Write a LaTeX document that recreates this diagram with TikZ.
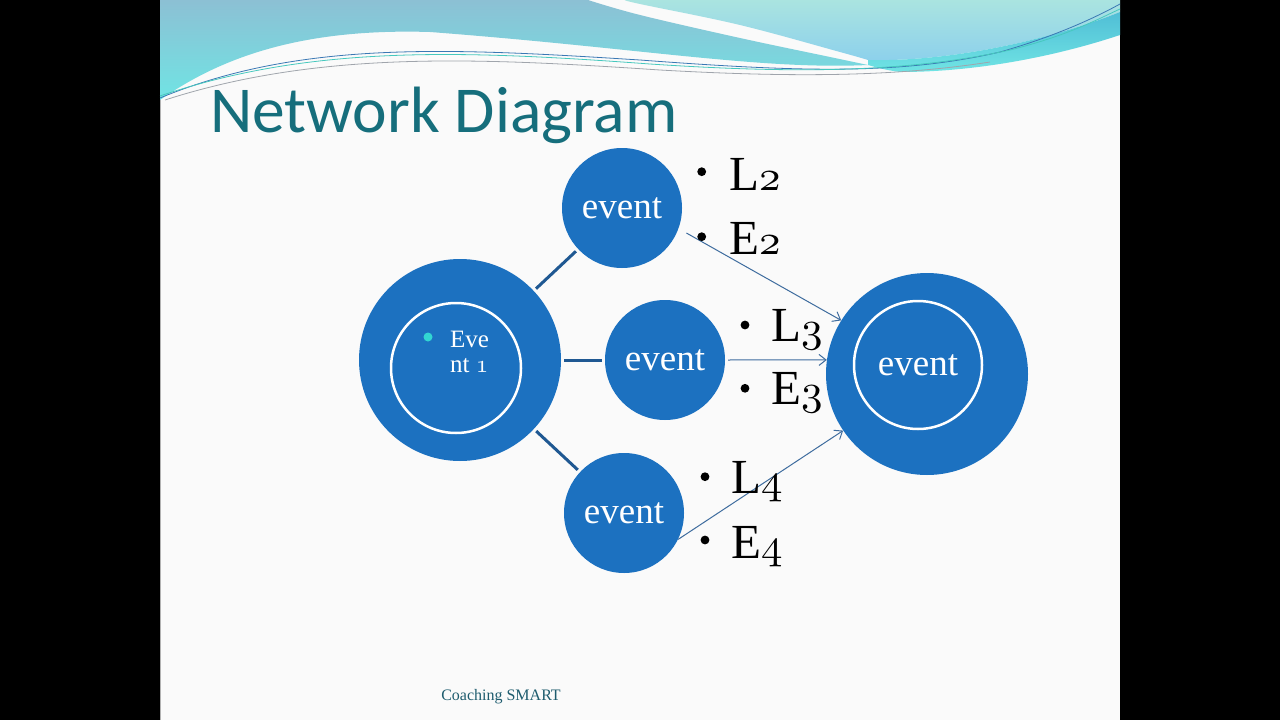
\documentclass[tikz,border=0pt]{standalone}
\usepackage{fontspec}
\setmainfont{Liberation Serif}
\newfontfamily\titlefont{Carlito}
\usetikzlibrary{arrows.meta}
\DeclareFontFamily{OML}{oscmm}{}
\DeclareFontShape{OML}{oscmm}{m}{it}{<-> cmmi10}{}
\newcommand\osn[1]{{\fontsize{43}{43}\usefont{OML}{oscmm}{m}{it}#1}}
\newcommand\osnsmall[1]{{\usefont{OML}{oscmm}{m}{it}#1}}
\definecolor{evblue}{RGB}{28,113,192}
\definecolor{connblue}{RGB}{31,88,146}
\definecolor{arrblue}{RGB}{62,108,158}
\definecolor{titleteal}{RGB}{22,110,124}
\definecolor{footteal}{RGB}{30,92,110}
\definecolor{slidebg}{RGB}{250,250,250}
\definecolor{bulcyan}{RGB}{50,214,210}
\begin{document}
\begin{tikzpicture}[x=1pt,y=-1pt,
  evt/.style={circle,fill=evblue,minimum size=120pt,inner sep=0pt,text=white,font=\fontsize{37}{37}\selectfont},
  bigev/.style={circle,fill=evblue,minimum size=202pt,inner sep=0pt},
  ring/.style={circle,draw=white,line width=2.5pt,inner sep=0pt},
  conn/.style={draw=connblue,line width=3pt,shorten <=3pt,shorten >=3pt},
  arr/.style={draw=arrblue,line width=1pt,-{Straight Barb[length=7pt,width=11pt]}},
  lbl/.style={anchor=base west,inner sep=0pt,font=\fontsize{49}{49}\selectfont},
  bul/.style={fill=black}]
\useasboundingbox (0,0) rectangle (1280,720);
\fill[black] (0,0) rectangle (1280,720);
\fill[slidebg] (160,0) rectangle (1120,720);
\draw[gray!60,line width=0.8pt] (160.5,0) -- (160.5,720);
% wave decoration
\shade[top color={rgb,255:red,140;green,192;blue,212},bottom color={rgb,255:red,112;green,228;blue,228}]
  (160,0) -- plot[smooth,tension=0.6] coordinates {(588,0) (640,15) (740,38) (830,57) (868,65)}
  .. controls (760,70) and (640,48) .. (430,32)
  .. controls (300,28) and (220,58) .. (160,100) -- cycle;
\shade[top color={rgb,255:red,170;green,228;blue,224},bottom color={rgb,255:red,140;green,208;blue,236}]
  (1120,0) -- plot[smooth,tension=0.6] coordinates {(625,0) (640,4) (740,25) (840,52) (868,60)}
  .. controls (950,62) and (1050,40) .. (1120,12) -- cycle;
\shade[top color={rgb,255:red,80;green,190;blue,214},bottom color={rgb,255:red,112;green,228;blue,228}]
  (868,60) .. controls (950,62) and (1050,40) .. (1120,12) -- (1120,35)
  .. controls (1060,55) and (980,72) .. (900,72) .. controls (885,70) and (875,67) .. (868,65) -- cycle;
\draw[line width=0.8pt,color={rgb,255:red,58;green,120;blue,180}]
  (160,98) .. controls (300,40) and (450,48) .. (640,60) .. controls (800,72) and (900,75) .. (1000,52) .. controls (1060,35) and (1100,15) .. (1120,4);
\draw[line width=0.8pt,color={rgb,255:red,70;green,200;blue,190}]
  (160,96) .. controls (310,45) and (460,50) .. (650,64) .. controls (800,74) and (910,72) .. (1010,50) .. controls (1070,35) and (1100,18) .. (1120,9);
\draw[line width=0.8pt,color={rgb,255:red,160;green,165;blue,172}]
  (165,100) .. controls (320,50) and (480,58) .. (660,70) .. controls (800,78) and (900,76) .. (990,62);
% title
\node[anchor=base west,inner sep=0pt,text=titleteal,font=\titlefont\fontsize{65.5}{66}\selectfont] (title) at (210,132) {Network Diagram};
% events
\node[bigev] (e1) at (460,360) {};
\node[ring,minimum size=130pt] (r1) at (456,368) {};
\fill[bulcyan] (428,337) circle (4.5);
\node[anchor=base west,inner sep=0pt,align=left,text=white,font=\fontsize{25}{25}\selectfont] (t1) at (450,372) {Eve\\nt \osnsmall{1}};
\node[evt] (e2) at (622,208) {event};
\node[evt] (e3) at (665,360) {event};
\node[evt] (e4) at (624,513) {event};
\node[bigev] (e5) at (927,374) {};
\node[ring,minimum size=128pt,text=white,font=\fontsize{37}{37}\selectfont] (r5) at (918,365) {event};
% connectors
\draw[conn] (e1) -- (e2);
\draw[conn] (e1) -- (e3);
\draw[conn] (e1) -- (e4);
\draw[arr,shorten <=9pt] (e2.-20) -- (e5.148);
\draw[arr,shorten <=3pt] (e3.0) -- (e5.172);
\draw[arr] (e4.-26) -- (e5.-146);
% labels
\fill[bul] (701.7,171.7) circle (4.4);
\node[lbl] (l2) at (729,190) {L\osn{2}};
\fill[bul] (701.7,236.7) circle (4.4);
\node[lbl] (ee2) at (729,254.5) {E\osn{2}};
\fill[bul] (745,325) circle (4.4);
\node[lbl] (l3) at (771,341.5) {L\osn{3}};
\fill[bul] (745,388.3) circle (4.4);
\node[lbl] (ee3) at (771,404) {E\osn{3}};
\fill[bul] (705,476.7) circle (4.4);
\node[lbl] (l4) at (731,493.5) {L\osn{4}};
\fill[bul] (705,540) circle (4.4);
\node[lbl] (ee4) at (731,558.5) {E\osn{4}};
% footer
\node[text=footteal,font=\fontsize{16}{16}\selectfont,inner sep=0pt] (foot) at (501,697) {Coaching SMART};
\end{tikzpicture}
\end{document}
